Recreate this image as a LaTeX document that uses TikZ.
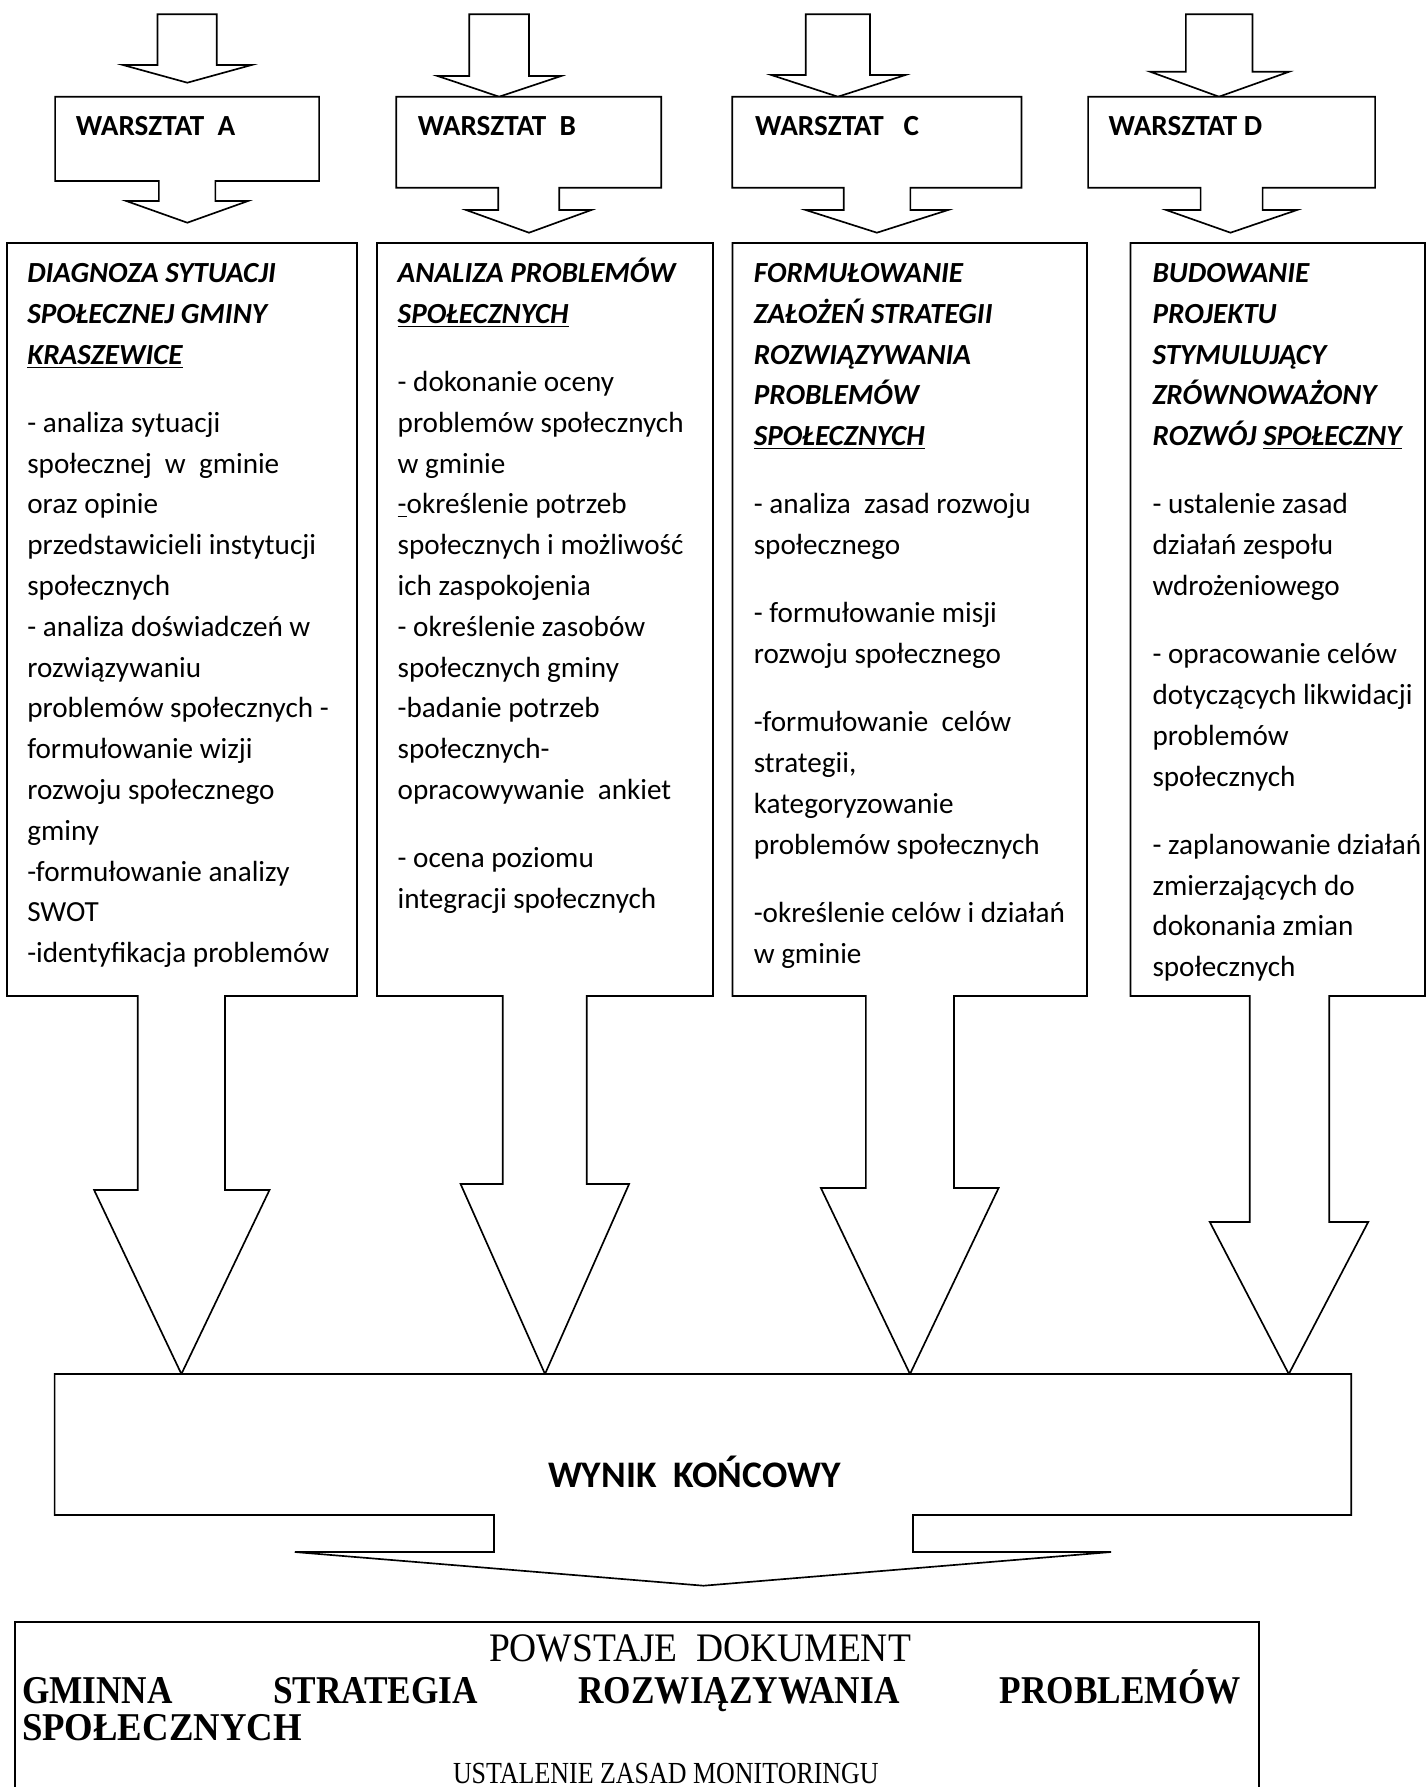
\documentclass[tikz,border=0pt]{standalone}
\usepackage{fontspec}
\usepackage{graphicx}
\setmainfont{Carlito}
\newfontfamily\tnr{Liberation Serif}
\begin{document}
\begin{tikzpicture}[x=0.48pt,y=-0.48pt,
  blk/.style={draw=black,line width=0.8pt,line join=miter,fill=white},
  docbox/.style={draw=black,line width=1.3pt},
  txt/.style={anchor=base west,inner sep=0pt,outer sep=0pt,font=\fontsize{14pt}{17pt}\selectfont},
  ttl/.style={txt,font=\fontsize{14pt}{17pt}\selectfont\bfseries\itshape},
  hd/.style={txt,font=\fontsize{14pt}{17pt}\selectfont\bfseries},
  big/.style={txt,font=\fontsize{18pt}{22pt}\selectfont\bfseries},
  serif/.style={anchor=base,inner sep=0pt,outer sep=0pt,font=\tnr\fontsize{18pt}{22pt}\selectfont},
  serifb/.style={anchor=base west,inner sep=0pt,outer sep=0pt,font=\tnr\fontsize{18pt}{22pt}\selectfont\bfseries}]
\useasboundingbox (0,0) rectangle (1427,1787);

% ---- top input arrows ----
\path[blk] (157.5,14.3) -- (216.7,14.3) -- (216.7,65) -- (251.6,65) -- (187.3,82.7) -- (123,65) -- (157.5,65) -- cycle;
\path[blk] (469.3,14.3) -- (529,14.3) -- (529,76) -- (561.1,76) -- (499.1,96.7) -- (437.6,76) -- (469.3,76) -- cycle;
\path[blk] (805.7,14.3) -- (870,14.3) -- (870,75) -- (905.4,75) -- (837.9,96.7) -- (771.3,75) -- (805.7,75) -- cycle;
\path[blk] (1185.9,14.3) -- (1252.5,14.3) -- (1252.5,71.7) -- (1289.2,71.7) -- (1219,96.7) -- (1150.1,71.7) -- (1185.9,71.7) -- cycle;

% ---- WARSZTAT boxes with their down arrows ----
\path[blk] (55.1,96.7) -- (319.1,96.7) -- (319.1,181) -- (215.4,181) -- (215.4,201) -- (248,201) -- (187.3,222.7) -- (126.3,201) -- (158.9,201) -- (158.9,181) -- (55.1,181) -- cycle;
\path[blk] (396.3,96.7) -- (661.2,96.7) -- (661.2,187.7) -- (559.3,187.7) -- (559.3,210) -- (591.4,210) -- (529,232.7) -- (466.1,210) -- (498.2,210) -- (498.2,187.7) -- (396.3,187.7) -- cycle;
\path[blk] (732.3,96.7) -- (1021.5,96.7) -- (1021.5,187.7) -- (910.4,187.7) -- (910.4,210) -- (948.1,210) -- (876.9,232.7) -- (805.7,210) -- (843.8,210) -- (843.8,187.7) -- (732.3,187.7) -- cycle;
\path[blk] (1088.1,96.7) -- (1375.1,96.7) -- (1375.1,187.7) -- (1262.6,187.7) -- (1262.6,210) -- (1297,210) -- (1230.5,232.7) -- (1166.2,210) -- (1200.6,210) -- (1200.6,187.7) -- (1088.1,187.7) -- cycle;

\node[hd] (hA) at (75.8,135) {WARSZTAT\ \ A};
\node[hd] (hB) at (417.8,135) {WARSZTAT\ \ B};
\node[hd] (hC) at (755.2,135) {WARSZTAT\ \ \ C};
\node[hd] (hD) at (1108.7,135) {WARSZTAT D};

% ---- big boxes with big arrows ----
\path[blk] (7,243) -- (357,243) -- (357,996) -- (225,996) -- (225,1190) -- (269.5,1190) -- (181.4,1374) -- (94.1,1190) -- (137.8,1190) -- (137.8,996) -- (7,996) -- cycle;
\path[blk] (377,243) -- (713,243) -- (713,996) -- (586.8,996) -- (586.8,1184) -- (629.1,1184) -- (545,1374) -- (460.6,1184) -- (502.8,1184) -- (502.8,996) -- (377,996) -- cycle;
\path[blk] (732.5,243) -- (1087,243) -- (1087,996) -- (954,996) -- (954,1188) -- (998.6,1188) -- (910,1374) -- (820.9,1188) -- (865.9,1188) -- (865.9,996) -- (732.5,996) -- cycle;
\path[blk] (1130.5,243) -- (1425,243) -- (1425,996) -- (1329.2,996) -- (1329.2,1222) -- (1368.2,1222) -- (1288.8,1374) -- (1209.8,1222) -- (1249.7,1222) -- (1249.7,996) -- (1130.5,996) -- cycle;

% ---- box A text ----
\node[ttl] (a01) at (27.3,282.5) {DIAGNOZA SYTUACJI};
\node[ttl] (a02) at (27.3,323.3) {SPOŁECZNEJ GMINY};
\node[ttl] (a03) at (27.3,364.1) {\underline{KRASZEWICE}};
\node[txt] (a04) at (27.3,432.3) {- analiza sytuacji};
\node[txt] (a05) at (27.3,473.1) {społecznej\ \ w\ \ gminie};
\node[txt] (a06) at (27.3,513.9) {oraz opinie};
\node[txt] (a07) at (27.3,554.7) {przedstawicieli instytucji};
\node[txt] (a08) at (27.3,595.5) {społecznych};
\node[txt] (a09) at (27.3,636.3) {- analiza doświadczeń w};
\node[txt] (a10) at (27.3,677.1) {rozwiązywaniu};
\node[txt] (a11) at (27.3,717.9) {problemów społecznych -};
\node[txt] (a12) at (27.3,758.7) {formułowanie wizji};
\node[txt] (a13) at (27.3,799.5) {rozwoju społecznego};
\node[txt] (a14) at (27.3,840.3) {gminy};
\node[txt] (a15) at (27.3,881.1) {-formułowanie analizy};
\node[txt] (a16) at (27.3,921.9) {SWOT};
\node[txt] (a17) at (27.3,962.7) {-identyfikacja problemów};

% ---- box B text ----
\node[ttl] (b01) at (397.7,282.5) {ANALIZA PROBLEMÓW};
\node[ttl] (b02) at (397.7,323.3) {\underline{SPOŁECZNYCH}};
\node[txt] (b03) at (397.7,391.5) {- dokonanie oceny};
\node[txt] (b04) at (397.7,432.3) {problemów społecznych};
\node[txt] (b05) at (397.7,473.1) {w gminie};
\node[txt] (b06) at (397.7,513.9) {\underline{-}określenie potrzeb};
\node[txt] (b07) at (397.7,554.7) {społecznych i możliwość};
\node[txt] (b08) at (397.7,595.5) {ich zaspokojenia};
\node[txt] (b09) at (397.7,636.3) {- określenie zasobów};
\node[txt] (b10) at (397.7,677.1) {społecznych gminy};
\node[txt] (b11) at (397.7,717.9) {-badanie potrzeb};
\node[txt] (b12) at (397.7,758.7) {społecznych-};
\node[txt] (b13) at (397.7,799.5) {opracowywanie\ \ ankiet};
\node[txt] (b14) at (397.7,867.7) {- ocena poziomu};
\node[txt] (b15) at (397.7,908.5) {integracji społecznych};

% ---- box C text ----
\node[ttl] (c01) at (753.8,282.5) {FORMUŁOWANIE};
\node[ttl] (c02) at (753.8,323.3) {ZAŁOŻEŃ STRATEGII};
\node[ttl] (c03) at (753.8,364.1) {ROZWIĄZYWANIA};
\node[ttl] (c04) at (753.8,404.9) {PROBLEMÓW};
\node[ttl] (c05) at (753.8,445.7) {\underline{SPOŁECZNYCH}};
\node[txt] (c06) at (753.8,513.9) {- analiza\ \ zasad rozwoju};
\node[txt] (c07) at (753.8,554.7) {społecznego};
\node[txt] (c08) at (753.8,622.9) {- formułowanie misji};
\node[txt] (c09) at (753.8,663.7) {rozwoju społecznego};
\node[txt] (c10) at (753.8,731.9) {-formułowanie\ \ celów};
\node[txt] (c11) at (753.8,772.7) {strategii,};
\node[txt] (c12) at (753.8,813.5) {kategoryzowanie};
\node[txt] (c13) at (753.8,854.3) {problemów społecznych};
\node[txt] (c14) at (753.8,922.5) {-określenie celów i działań};
\node[txt] (c15) at (753.8,963.3) {w gminie};

% ---- box D text ----
\node[ttl] (d01) at (1152.5,282.5) {BUDOWANIE};
\node[ttl] (d02) at (1152.5,323.3) {PROJEKTU};
\node[ttl] (d03) at (1152.5,364.1) {STYMULUJĄCY};
\node[ttl] (d04) at (1152.5,404.9) {ZRÓWNOWAŻONY};
\node[ttl] (d05) at (1152.5,445.7) {ROZWÓJ \underline{SPOŁECZNY}};
\node[txt] (d06) at (1152.5,513.9) {- ustalenie zasad};
\node[txt] (d07) at (1152.5,554.7) {działań zespołu};
\node[txt] (d08) at (1152.5,595.5) {wdrożeniowego};
\node[txt] (d09) at (1152.5,663.7) {- opracowanie celów};
\node[txt] (d10) at (1152.5,704.5) {dotyczących likwidacji};
\node[txt] (d11) at (1152.5,745.3) {problemów};
\node[txt] (d12) at (1152.5,786.1) {społecznych};
\node[txt] (d13) at (1152.5,854.3) {- zaplanowanie działań};
\node[txt] (d14) at (1152.5,895.1) {zmierzających do};
\node[txt] (d15) at (1152.5,935.9) {dokonania zmian};
\node[txt] (d16) at (1152.5,976.7) {społecznych};

% ---- result box with output arrow ----
\path[blk] (54.6,1374) -- (1351.2,1374) -- (1351.2,1515) -- (913,1515) -- (913,1552) -- (1111,1552) -- (703.5,1585.7) -- (294.8,1552) -- (494,1552) -- (494,1515) -- (54.6,1515) -- cycle;
\node[big] (wynik) at (548,1487) {WYNIK\ \ KOŃCOWY};

% ---- document box ----
\draw[docbox] (15,1800) -- (15,1622) -- (1259,1622) -- (1259,1800);
\node[serif] (pow) at (700,1661) {\scalebox{1}[1.08]{POWSTAJE\ \ DOKUMENT}};
\node[serifb] (gsr) at (22,1703) {\hbox to 585pt{\scalebox{0.94}[1.05]{GMINNA}\hfill\scalebox{0.94}[1.05]{STRATEGIA}\hfill\scalebox{0.94}[1.05]{ROZWIĄZYWANIA}\hfill\scalebox{0.94}[1.05]{PROBLEMÓW}}};
\node[serifb] (spo) at (22,1740) {\scalebox{0.98}[1.05]{SPOŁECZNYCH}};
\node[serif,anchor=base west,font=\tnr\fontsize{14pt}{17pt}\selectfont] (ust) at (453,1783) {\scalebox{0.89}[1.05]{USTALENIE ZASAD MONITORINGU}};
\end{tikzpicture}
\end{document}
